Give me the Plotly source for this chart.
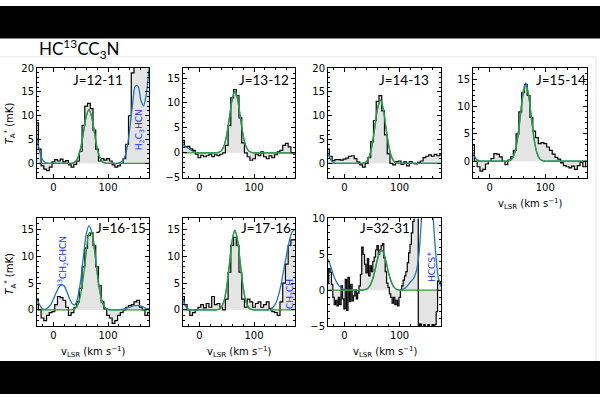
import plotly.graph_objects as go

# velocity grid (km/s) for P1-P6 observed and all model curves
v = [-30, -25, -20, -15, -10, -5, 0, 5, 10, 15, 20, 25, 30, 35, 40, 45, 50, 55, 60, 65, 70,
     75, 80, 85, 90, 95, 100, 105, 110, 115, 120, 125, 130, 135, 140, 145, 150, 155, 160, 165, 170, 175]

obs_12_11 = [8.5, 3.0, -0.5, -1.2, -1.5, -0.8, 0.3, 0.8, 0.5, 0.9, 0.3, 0.6, -0.3, -0.8, -0.2, 0.5, 2.5, 8.0,
             12.0, 12.6, 11.5, 7.0, 3.0, 0.5, 1.0, 0.7, 1.0, 0.5, -0.3, -0.8, -0.5, 0.0, 1.0, 4.0, 10.0, 19.0,
             25.0, 26.0, 26.0, 25.0, 25.0, 25.0]
fit_12_11 = [0, 0, 0, 0, 0, 0, 0, 0, 0, 0, 0, 0, 0, 0.08, 0.35, 1.23, 3.25, 6.50,
             9.84, 11.3, 9.84, 6.50, 3.25, 1.23, 0.35, 0.08, 0, 0, 0, 0, 0, 0, 0, 0, 0, 0,
             0, 0, 0, 0, 0, 0]
tot_12_11 = [5.4, 2.5, 0.8, 0.2, 0.05, 0, 0, 0, 0, 0, 0, 0, 0, 0.08, 0.35, 1.23, 3.25, 6.50,
             9.84, 11.3, 9.84, 6.50, 3.25, 1.23, 0.35, 0.08, 0, 0, 0, 0, 0.1, 0.4, 1.2, 3.3, 7.5, 12.5,
             16.2, 16.2, 13.3, 12.1, 14.5, 20.0]

obs_13_12 = [2.5, 1.2, 1.3, 0.8, 0.5, -0.3, -1.0, -0.5, -0.8, -0.6, -0.3, -0.8, -0.4, -0.6, -0.3, 0.0, 1.5, 5.5,
             11.0, 12.7, 11.5, 7.0, 2.0, 0.0, -0.8, -1.5, -1.2, -0.3, -0.6, 0.2, -0.8, -1.2, -0.6, -1.0, -0.4, 0.2,
             0.5, 1.5, 1.9, 1.2, 0.0, -0.3]
fit_13_12 = [0, 0, 0, 0, 0, 0, 0, 0, 0, 0, 0, 0, 0, 0.09, 0.38, 1.34, 3.54, 7.07,
             10.71, 12.3, 10.71, 7.07, 3.54, 1.34, 0.38, 0.09, 0, 0, 0, 0, 0, 0, 0, 0, 0, 0,
             0, 0, 0, 0, 0, 0]
tot_13_12 = [1.7, 1.2, 0.9, 0.5, 0.2, 0.05, 0, 0, 0, 0, 0, 0, 0, 0.09, 0.38, 1.34, 3.54, 7.07,
             10.71, 12.3, 10.71, 7.07, 3.54, 1.34, 0.38, 0.09, 0, 0, 0, 0, 0, 0, 0, 0, 0, 0,
             0, 0, 0, 0, 0, 0]

obs_14_13 = [3.0, 1.5, 0.6, 0.8, 0.8, 0.7, 0.9, 1.1, 1.5, 1.6, 1.0, 0.3, -0.3, -0.8, 0.0, 1.2, 4.5, 9.0,
             13.0, 14.2, 11.0, 6.0, 2.0, 0.0, -0.3, 0.4, 0.5, -0.2, 0.3, -0.5, 0.4, 0.0, -0.1, 0.2, 0.5, 1.2,
             1.5, 1.8, 1.5, 1.9, 1.6, 1.8]
fit_14_13 = [0, 0, 0, 0, 0, 0, 0, 0, 0, 0, 0, 0, 0, 0.09, 0.41, 1.45, 3.83, 7.65,
             11.58, 13.3, 11.58, 7.65, 3.83, 1.45, 0.41, 0.09, 0, 0, 0, 0, 0, 0, 0, 0, 0, 0,
             0, 0, 0, 0, 0, 0]
tot_14_13 = [2.2, 0.8, 0.2, 0, 0, 0, 0, 0, 0, 0, 0, 0, 0, 0.09, 0.41, 1.45, 3.83, 7.65,
             11.58, 13.3, 11.58, 7.65, 3.83, 1.45, 0.41, 0.09, 0, 0, 0, 0, 0, 0, 0, 0, 0, 0,
             0, 0, 0, 0, 0, 0]

obs_15_14 = [3.0, 0.0, -1.0, -1.8, -1.5, -0.5, 0.0, 0.5, 1.4, 1.3, 0.8, 0.0, -0.6, 0.2, 0.8, 2.0, 5.0, 9.0,
             12.5, 14.0, 12.0, 8.0, 5.5, 4.3, 3.2, 3.4, 3.2, 2.6, 2.0, 1.3, 0.7, 0.4, -0.3, -0.8, -1.0, -1.2,
             -0.9, -1.5, -0.8, -0.2, -1.0, 0.0]
fit_15_14 = [0, 0, 0, 0, 0, 0, 0, 0, 0, 0, 0, 0, 0, 0.10, 0.43, 1.50, 3.97, 7.94,
             12.02, 13.8, 12.02, 7.94, 3.97, 1.50, 0.43, 0.10, 0, 0, 0, 0, 0, 0, 0, 0, 0, 0,
             0, 0, 0, 0, 0, 0]
tot_15_14 = [1.6, 0.5, 0.1, 0, 0, 0, 0, 0, 0, 0, 0, 0, 0, 0.10, 0.45, 1.6, 4.2, 8.3,
             12.6, 14.3, 12.1, 7.94, 3.97, 1.50, 0.43, 0.10, 0, 0, 0, 0, 0, 0, 0, 0, 0, 0,
             0, 0, 0, 0, 0, 0]

obs_16_15 = [2.0, 0.0, -1.5, -2.0, -1.0, -0.5, -0.3, 1.0, 2.5, 2.3, 1.8, 0.5, -1.0, -0.5, 0.5, 1.5, 4.0, 8.0,
             11.5, 13.8, 14.3, 12.0, 8.0, 4.5, 1.5, 0.2, -1.0, -1.5, -2.5, -2.0, -1.0, -0.5, 0.0, 0.5, 0.8, 1.0,
             1.5, 1.8, 0.5, 0.0, -1.0, -0.5]
fit_16_15 = [0, 0, 0, 0, 0, 0, 0, 0, 0, 0, 0, 0, 0, 0.06, 0.29, 1.03, 2.9, 6.2,
             10.5, 14.2, 14.35, 11.4, 7.05, 3.4, 1.3, 0.38, 0.09, 0, 0, 0, 0, 0, 0, 0, 0, 0,
             0, 0, 0, 0, 0, 0]
tot_16_15 = [2.0, 0.9, 0.2, 0.1, 0.4, 1.0, 2.0, 3.2, 4.2, 4.7, 4.4, 3.3, 2.0, 1.1, 1.0, 2.5, 5.5, 10.0,
             14.0, 15.6, 14.6, 11.4, 7.05, 3.4, 1.3, 0.38, 0.09, 0, 0, 0, 0.05, 0.1, 0.2, 0.35, 0.5, 0.7,
             0.8, 0.8, 0.7, 0.5, 0.3, 0.2]

obs_17_16 = [2.5, 1.0, 0.0, -1.0, -0.5, 0.0, 0.5, 1.0, 0.4, 1.2, 0.5, 2.5, 1.0, 1.2, 0.5, 0.0, 2.0, 7.0,
             12.0, 13.5, 12.0, 7.0, 2.0, 0.5, 2.0, 1.5, 0.5, 1.2, 1.5, 0.5, 1.0, 1.5, 0.3, -0.3, -0.5, -1.0,
             1.5, 5.0, 8.5, 12.0, 13.0, 13.0]
fit_17_16 = [0, 0, 0, 0, 0, 0, 0, 0, 0, 0, 0, 0, 0, 0.10, 0.46, 1.61, 4.26, 8.51,
             12.89, 14.8, 12.89, 8.51, 4.26, 1.61, 0.46, 0.10, 0, 0, 0, 0, 0, 0, 0, 0, 0, 0,
             0, 0, 0, 0, 0, 0]
tot_17_16 = [2.0, 0.7, 0.1, 0, 0, 0, 0, 0, 0, 0, 0, 0, 0, 0.10, 0.46, 1.61, 4.26, 8.51,
             12.89, 14.8, 12.89, 8.51, 4.26, 1.61, 0.46, 0.10, 0, 0, 0, 0, 0, 0, 0.1, 0.5, 1.3, 2.8,
             5.0, 7.8, 10.5, 13.0, 14.5, 15.0]

# finer channel grid for the noisy J=32-31 spectrum
v32 = [-30, -27.5, -25, -22.5, -20, -17.5, -15, -12.5, -10, -7.5, -5, -2.5, 0, 2.5, 5, 7.5, 10, 12.5,
       15, 17.5, 20, 22.5, 25, 27.5, 30, 32.5, 35, 37.5, 40, 42.5, 45, 47.5, 50, 52.5, 55, 57.5, 60,
       62.5, 65, 67.5, 70, 72.5, 75, 77.5, 80, 82.5, 85, 87.5, 90, 92.5, 95, 97.5, 100, 102.5, 105,
       107.5, 110, 112.5, 115, 117.5, 120, 122.5, 125, 127.5, 130, 132.5, 135, 137.5, 140, 142.5, 145,
       147.5, 150, 152.5, 155, 157.5, 160, 162.5, 165, 167.5, 170, 172.5, 175]
obs_32_31 = [1.0, 3.0, 2.5, 0.8, -1.0, -2.0, -1.4, -2.2, -1.0, -2.0, 0.6, -1.2, -2.6, 1.5, -2.8, 1.8, -1.6, 0.8,
             -1.5, -0.8, 0.0, -1.2, -0.4, 0.6, 2.2, 6.0, 5.0, 3.6, 2.4, 4.4, 2.0, 3.4, 2.6, 4.0, 4.6, 5.6, 6.2,
             5.0, 5.6, 6.2, 6.5, 4.5, 2.6, 1.0, 0.4, -0.5, -1.0, -1.8, -1.0, -2.0, -1.4, -2.2, -1.0, 0.0, 0.6,
             1.4, 2.0, 2.6, 3.8, 5.2, 6.4, 8.0, 9.6, 12.0, 14.0, 13.0, -6.0, -4.7, -6.0, -6.0, -4.8,
             -6.0, -6.0, -4.8, -6.0, -6.0, -4.8, -6.0, -4.8, -3.0, 1.3, 1.2, 0.8]
fit_32_31 = [0, 0, 0, 0, 0, 0, 0, 0, 0, 0, 0, 0, 0, 0.06, 0.15, 0.5, 1.3, 2.7,
             4.4, 5.5, 5.35, 4.05, 2.4, 1.1, 0.4, 0.1, 0.02, 0, 0, 0, 0, 0, 0, 0, 0, 0,
             0, 0, 0, 0, 0, 0]
tot_32_31 = [4.3, 3.3, 2.1, 1.2, 0.6, 0.25, 0.1, 0.03, 0, 0, 0, 0, 0, 0.06, 0.15, 0.5, 1.3, 2.7,
             4.4, 5.5, 5.35, 4.05, 2.4, 1.1, 0.4, 0.1, 0.02, 0.05, 0.3, 0.7, 1.2, 1.6, 2.6, 5.0, 10.5, 16.0,
             18.0, 16.0, 11.0, 5.5, 1.8, 0.5]

W, H = 600, 400


def px(x):
    return x / W


def py(y):
    return 1 - y / H


panels = [
    dict(lab="J=12-11", vo=v, obs=obs_12_11, fit=fit_12_11, tot=tot_12_11, yr=[-3, 20], box=(37, 64, 149, 177), lp=(98, 76)),
    dict(lab="J=13-12", vo=v, obs=obs_13_12, fit=fit_13_12, tot=tot_13_12, yr=[-5, 17], box=(183, 64, 295, 177), lp=(264, 76)),
    dict(lab="J=14-13", vo=v, obs=obs_14_13, fit=fit_14_13, tot=tot_14_13, yr=[-3, 20], box=(328, 64, 441, 177), lp=(404, 76)),
    dict(lab="J=15-14", vo=v, obs=obs_15_14, fit=fit_15_14, tot=tot_15_14, yr=[-3, 17], box=(473, 64, 587, 177), lp=(561, 76)),
    dict(lab="J=16-15", vo=v, obs=obs_16_15, fit=fit_16_15, tot=tot_16_15, yr=[-3, 17], box=(37, 219, 149, 330), lp=(121, 229)),
    dict(lab="J=17-16", vo=v, obs=obs_17_16, fit=fit_17_16, tot=tot_17_16, yr=[-3, 17], box=(183, 219, 295, 330), lp=(266, 229)),
    dict(lab="J=32-31", vo=v32, obs=obs_32_31, fit=fit_32_31, tot=tot_32_31, yr=[-5, 10], box=(328, 219, 441, 330), lp=(385, 229)),
]

fig = go.Figure()
layout = {}
annotations = []
tickfont = dict(family="DejaVu Sans", size=10, color="black")

for i, p in enumerate(panels, start=1):
    sfx = "" if i == 1 else str(i)
    xa, ya = "x" + sfx, "y" + sfx
    fig.add_trace(go.Scatter(x=p["vo"], y=p["obs"], xaxis=xa, yaxis=ya, mode="lines",
                             line=dict(color="black", width=1.2, shape="hvh"),
                             fill="tozeroy", fillcolor="#e4e4e4", hoverinfo="skip", showlegend=False))
    fig.add_trace(go.Scatter(x=v, y=p["tot"], xaxis=xa, yaxis=ya, mode="lines",
                             line=dict(color="#1f77b4", width=1.3, shape="spline", smoothing=0.8),
                             hoverinfo="skip", showlegend=False))
    fig.add_trace(go.Scatter(x=v, y=p["fit"], xaxis=xa, yaxis=ya, mode="lines",
                             line=dict(color="#2ca02c", width=1.3, shape="spline", smoothing=0.8),
                             hoverinfo="skip", showlegend=False))
    x0, y0, x1, y1 = p["box"]
    layout["xaxis" + sfx] = dict(domain=[px(x0), px(x1)], range=[-30, 175], anchor=ya,
                                 dtick=100, tick0=0, ticks="inside", ticklen=4, tickwidth=1,
                                 tickcolor="black", mirror="ticks", showline=True, linecolor="black",
                                 linewidth=1, showgrid=False, zeroline=False, tickfont=tickfont,
                                 minor=dict(ticks="inside", ticklen=2, tickwidth=1, dtick=20, tick0=0,
                                            tickcolor="black", showgrid=False))
    layout["yaxis" + sfx] = dict(domain=[py(y1), py(y0)], range=p["yr"], anchor=xa,
                                 dtick=5, tick0=0, ticks="inside", ticklen=4, tickwidth=1,
                                 tickcolor="black", mirror="ticks", showline=True, linecolor="black",
                                 linewidth=1, showgrid=False, zeroline=False, tickfont=tickfont,
                                 minor=dict(ticks="inside", ticklen=2, tickwidth=1, dtick=1, tick0=0,
                                            tickcolor="black", showgrid=False))
    annotations.append(dict(text=p["lab"], x=px(p["lp"][0]), y=py(p["lp"][1]), xref="paper", yref="paper",
                            xanchor="center", yanchor="middle", showarrow=False,
                            font=dict(family="Lato", size=13.5, color="black")))

# species labels (blue, rotated)
species = [
    ("H<sub>2</sub>C<sub>3</sub>HCN", 139, 128),
    ("<sup>13</sup>CH<sub>2</sub>CHCN", 62, 264),
    ("CH<sub>3</sub>CH", 290, 297),
    ("HCCS<sup>+</sup>", 431, 269),
]
for txt, sx, sy in species:
    annotations.append(dict(text=txt, x=px(sx), y=py(sy), xref="paper", yref="paper", textangle=-90,
                            xanchor="center", yanchor="middle", showarrow=False,
                            font=dict(family="DejaVu Sans", size=9, color="#1030ff")))

ytitle = "<i>T</i><sub>A</sub><sup>*</sup> (mK)"
xtitle = "v<sub>LSR</sub> (km s<sup>\u22121</sup>)"
for yy in (121, 276):
    annotations.append(dict(text=ytitle, x=px(10), y=py(yy), xref="paper", yref="paper", textangle=-90,
                            xanchor="center", yanchor="middle", showarrow=False,
                            font=dict(family="DejaVu Sans", size=10, color="black")))
for xx, yy in ((530, 204), (93, 357), (239, 357), (385, 357)):
    annotations.append(dict(text=xtitle, x=px(xx), y=py(yy), xref="paper", yref="paper",
                            xanchor="center", yanchor="middle", showarrow=False,
                            font=dict(family="DejaVu Sans", size=10, color="black")))

annotations.append(dict(text="HC<sup>13</sup>CC<sub>3</sub>N", x=px(37), y=py(44), xref="paper", yref="paper",
                        xanchor="left", yanchor="middle", showarrow=False,
                        font=dict(family="Lato", size=17, color="black")))

shapes = [
    dict(type="rect", xref="paper", yref="paper", x0=0, x1=1, y0=py(33.5), y1=1,
         fillcolor="black", line=dict(width=0), layer="above"),
    dict(type="rect", xref="paper", yref="paper", x0=0, x1=1, y0=0, y1=py(366),
         fillcolor="black", line=dict(width=0), layer="above"),
    dict(type="line", xref="paper", yref="paper", x0=0, x1=px(596), y0=py(52.5), y1=py(52.5),
         line=dict(color="#e6e6e6", width=1)),
    dict(type="line", xref="paper", yref="paper", x0=px(596), x1=px(596), y0=py(52.5), y1=py(366),
         line=dict(color="#e6e6e6", width=1)),
]

fig.update_layout(width=W, height=H, margin=dict(l=0, r=0, t=0, b=0), paper_bgcolor="white",
                  plot_bgcolor="white", showlegend=False, annotations=annotations, shapes=shapes, **layout)

fig.write_html("out.html")
